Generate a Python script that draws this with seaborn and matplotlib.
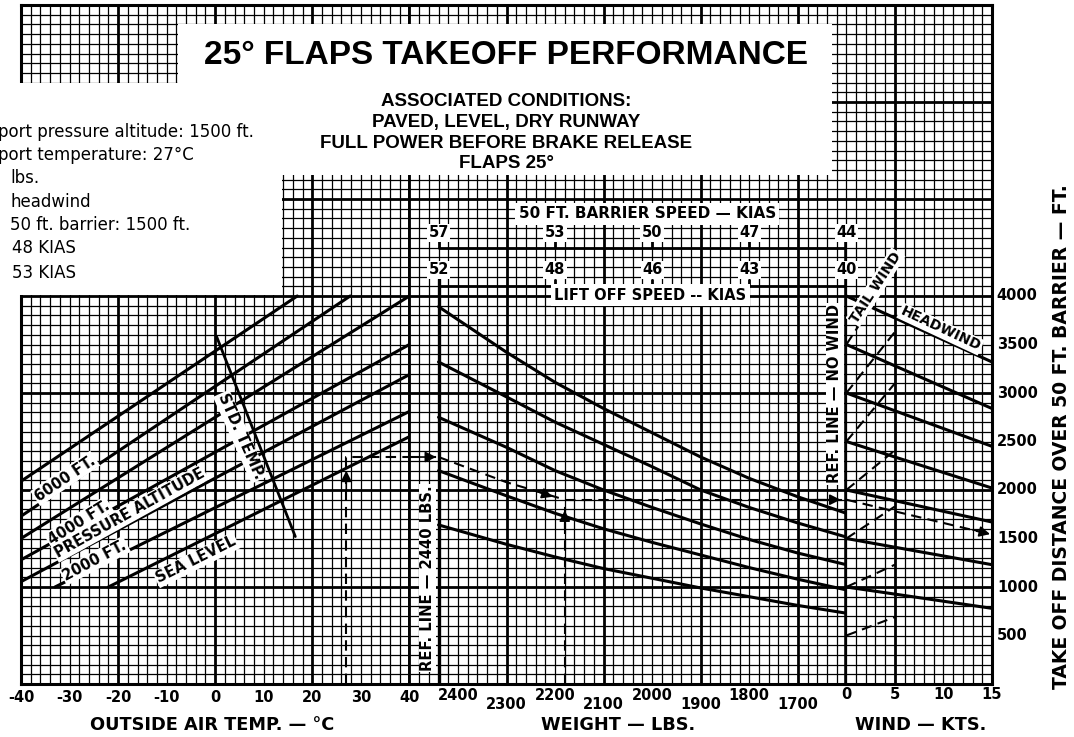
import numpy as np
import pandas as pd
import matplotlib
matplotlib.use("Agg")
import matplotlib.pyplot as plt
from matplotlib.patches import Rectangle
import seaborn as sns

W_PX, H_PX = 1074, 737

# ---------------- data ----------------
# left panel: outside air temp (C) vs distance, one line per pressure altitude
alt_names = ["6000", "5000", "4000", "3000", "2000", "1000", "SL"]
alt_oat = [[-40, 16.9], [-40, 27.8], [-40, 40], [-40, 40], [-40, 40], [-33, 40], [-22, 40]]
alt_dist = [[2090, 4000], [1730, 4000], [1500, 4000], [1280, 3500],
            [1055, 3190], [1000, 2810], [1000, 2550]]
std_temp_oat = [0.3, 16.5]
std_temp_dist = [3580, 1520]

# middle panel: weight curves (start on the 2440 lbs reference line)
curve_weights = [2440, 2300, 2200, 2100, 2000, 1900, 1800, 1700, 1600]
weight_curves = [
    [3890, 3420, 3110, 2840, 2590, 2340, 2120, 1930, 1760],
    [3320, 2960, 2700, 2470, 2240, 2000, 1820, 1660, 1515],
    [2750, 2440, 2200, 2000, 1820, 1650, 1490, 1350, 1230],
    [2200, 1940, 1760, 1600, 1460, 1330, 1200, 1080, 970],
    [1640, 1440, 1310, 1190, 1090, 990, 900, 810, 730],
]

# right panel: wind lines
headwind_kts = [0, 15]
headwind_start = [4000, 3500, 3000, 2500, 2000, 1500, 1000]
headwind_end = [3320, 2840, 2450, 2020, 1670, 1230, 780]
tailwind_kts = [0, 5]
tailwind_start = [3000, 2500, 2000, 1500, 1000, 500]
tailwind_end = [3630, 3100, 2410, 1830, 1230, 690]
tailwind_top_kts = [0, 2.5]
tailwind_top_dist = [3500, 3880]

# speed scales above the weight panel
scale_weights = [2440, 2200, 2000, 1800, 1600]
barrier_kias = [57, 53, 50, 47, 44]
liftoff_kias = [52, 48, 46, 43, 40]

# worked example (dashed path)
ex_oat = [27, 27, 40]
ex_oat_dist = [0, 2340, 2340]
ex_wt_in = [2500, 2440]
ex_wt_in_dist = [2340, 2340]
ex_wt_diag = [2440, 2300, 2180]
ex_wt_diag_dist = [2340, 2080, 1900]
ex_wt_up = [2180, 2180]
ex_wt_up_dist = [0, 1900]
ex_wt_out = [2180, 1600]
ex_wt_out_dist = [1900, 1900]
ex_wind = [0, 15]
ex_wind_dist = [1900, 1540]

# tick labels
temp_ticks = [-40, -30, -20, -10, 0, 10, 20, 30, 40]
weight_ticks_hi = [2400, 2200, 2000, 1800]
weight_ticks_lo = [2300, 2100, 1900, 1700]
wind_ticks = [0, 5, 10, 15]
dist_ticks = [500, 1000, 1500, 2000, 2500, 3000, 3500, 4000]

example_lines = [
    "port pressure altitude: 1500 ft.",
    "port temperature: 27\u00b0C",
    "lbs.",
    "headwind",
    "50 ft. barrier: 1500 ft.",
    "48 KIAS",
    "53 KIAS",
]
example_x = [-2, -2, 10, 10, 10, 12, 12]
example_y = [132, 155, 178, 202, 225, 248, 273]


def long_frame(xs_list, ys_list):
    rows = []
    for i, (xs, ys) in enumerate(zip(xs_list, ys_list)):
        for x, y in zip(xs, ys):
            rows.append((i, x, y))
    return pd.DataFrame(rows, columns=["line", "x", "y"])


def fx(px):
    return px / W_PX


def fy(py):
    return 1 - py / H_PX


sns.set_style("white")
plt.rcParams["font.family"] = ["DejaVu Sans"]
LAB = dict(family="DejaVu Sans", weight="bold", color="black")
HEAD = dict(family="Liberation Sans", weight="bold", color="black")
WHITE = dict(facecolor="white", edgecolor="none", pad=1.0)

fig = plt.figure(figsize=(W_PX / 100, H_PX / 100), dpi=100)

x_left, x_right = 21, 992
y_top, y_bot = 5, 684
cell = (x_right - x_left) / 100.0
ax_t = fig.add_axes([fx(x_left), fy(y_bot), 40 * cell / W_PX, (y_bot - y_top) / H_PX])
ax_w = fig.add_axes([fx(x_left + 40 * cell), fy(y_bot), 45 * cell / W_PX, (y_bot - y_top) / H_PX],
                    sharey=ax_t)
ax_k = fig.add_axes([fx(x_left + 85 * cell), fy(y_bot), 15 * cell / W_PX, (y_bot - y_top) / H_PX],
                    sharey=ax_t)
ax_t.set_zorder(1)
ax_k.set_zorder(1)
ax_w.set_zorder(2)

SOLID = dict(estimator=None, sort=False, color="black", legend=False)
DASH = dict(estimator=None, sort=False, color="black", linewidth=1.5,
            linestyle=(0, (5, 3)), legend=False)

# ---------------- curves ----------------
sns.lineplot(data=long_frame(alt_oat, alt_dist), x="x", y="y", units="line",
             linewidth=2.2, ax=ax_t, **SOLID)
sns.lineplot(x=std_temp_oat, y=std_temp_dist, linewidth=2.0, ax=ax_t, **SOLID)

sns.lineplot(data=long_frame([curve_weights] * len(weight_curves), weight_curves),
             x="x", y="y", units="line", linewidth=2.2, ax=ax_w, **SOLID)

sns.lineplot(data=long_frame([headwind_kts] * len(headwind_start),
                             [[a, b] for a, b in zip(headwind_start, headwind_end)]),
             x="x", y="y", units="line", linewidth=2.2, ax=ax_k, **SOLID)
sns.lineplot(data=long_frame([tailwind_kts] * len(tailwind_start),
                             [[a, b] for a, b in zip(tailwind_start, tailwind_end)]),
             x="x", y="y", units="line", ax=ax_k, **DASH)
sns.lineplot(x=tailwind_top_kts, y=tailwind_top_dist, ax=ax_k, **DASH)

# reference lines and speed scales
sns.lineplot(x=[scale_weights[0]] * 2, y=[0, 4180], linewidth=2.4, ax=ax_w, **SOLID)
sns.lineplot(x=[scale_weights[-1]] * 2, y=[0, 4580], linewidth=2.6, ax=ax_w, **SOLID)
sns.lineplot(x=scale_weights, y=[4500] * len(scale_weights), linewidth=2.0, ax=ax_w, **SOLID)
sns.lineplot(x=scale_weights, y=[4100] * len(scale_weights), linewidth=2.0, ax=ax_w, **SOLID)
ax_w.vlines(scale_weights, 4500, 4580, color="black", lw=2.0)
ax_w.vlines(scale_weights, 4100, 4180, color="black", lw=2.0)
for w, b, l in zip(scale_weights, barrier_kias, liftoff_kias):
    ax_w.text(w, 4650, str(b), ha="center", va="center", fontsize=10.5, bbox=WHITE, **LAB)
    ax_w.text(w, 4270, str(l), ha="center", va="center", fontsize=10.5, bbox=WHITE, **LAB)
ax_w.text(2010, 4850, "50 FT. BARRIER SPEED \u2014 KIAS", ha="center", va="center",
          fontsize=11, bbox=dict(facecolor="white", edgecolor="none", pad=2.5), **LAB)
ax_w.text(2004, 4010, "LIFT OFF SPEED -- KIAS", ha="center", va="center",
          fontsize=10.5, bbox=dict(facecolor="white", edgecolor="none", pad=2.5), **LAB)

# worked example
sns.lineplot(x=ex_oat, y=ex_oat_dist, ax=ax_t, **DASH)
sns.lineplot(x=ex_wt_in, y=ex_wt_in_dist, ax=ax_w, **DASH)
sns.lineplot(x=ex_wt_diag, y=ex_wt_diag_dist, ax=ax_w, **DASH)
sns.lineplot(x=ex_wt_up, y=ex_wt_up_dist, ax=ax_w, **DASH)
sns.lineplot(x=ex_wt_out, y=ex_wt_out_dist, ax=ax_w, **DASH)
sns.lineplot(x=ex_wind, y=ex_wind_dist, ax=ax_k, **DASH)


def arrow(ax, p0, p1):
    ax.annotate("", xy=p1, xytext=p0,
                arrowprops=dict(arrowstyle="-|>", color="black", lw=1.2,
                                mutation_scale=16, shrinkA=0, shrinkB=0))


arrow(ax_t, (27, 2000), (27, 2200))
arrow(ax_w, (2480, 2340), (2445, 2340))
arrow(ax_w, (2240, 1990), (2205, 1930))
arrow(ax_w, (2180, 1600), (2180, 1790))
arrow(ax_w, (1680, 1900), (1612, 1900))
arrow(ax_k, (13.0, 1590), (14.8, 1545))

# ---------------- in-chart labels ----------------
ax_t.text(-30.9, 2120, "6000 FT.", rotation=34, ha="center", va="center",
          rotation_mode="anchor", fontsize=10.5, bbox=WHITE, **LAB)
ax_t.text(-28.1, 1663, "4000 FT.", rotation=32, ha="center", va="center",
          rotation_mode="anchor", fontsize=10.5, bbox=WHITE, **LAB)
ax_t.text(-17.6, 1760, "PRESSURE ALTITUDE", rotation=29, ha="center", va="center",
          rotation_mode="anchor", fontsize=10.5, bbox=WHITE, **LAB)
ax_t.text(-24.8, 1271, "2000 FT.", rotation=28, ha="center", va="center",
          rotation_mode="anchor", fontsize=10.5, bbox=WHITE, **LAB)
ax_t.text(-3.9, 1278, "SEA LEVEL", rotation=26.5, ha="center", va="center",
          rotation_mode="anchor", fontsize=10.5, bbox=WHITE, **LAB)
ax_t.text(5.2, 2550, "STD. TEMP.", rotation=-66, ha="center", va="center",
          rotation_mode="anchor", fontsize=10.5, bbox=WHITE, **LAB)
ax_w.text(2463, 1090, "REF. LINE \u2014 2440 LBS.", rotation=90, ha="center", va="center",
          fontsize=10.6, bbox=WHITE, **LAB)
ax_w.text(1624, 2990, "REF. LINE \u2014 NO WIND", rotation=90, ha="center", va="center",
          fontsize=10.6, bbox=WHITE, **LAB)
ax_k.text(3.0, 4090, "TAIL WIND", rotation=57, ha="center", va="center",
          rotation_mode="anchor", fontsize=10, bbox=WHITE, **LAB)
ax_k.text(9.7, 3660, "HEADWIND", rotation=-25, ha="center", va="center",
          rotation_mode="anchor", fontsize=10, bbox=WHITE, **LAB)

# ---------------- graph paper ----------------
ax_t.set_xlim(-40, 40)
ax_w.set_xlim(2500, 1600)
ax_k.set_xlim(0, 15)
ax_t.set_ylim(0, 7000)
ax_t.set_xticks([-40, -20, 0, 20, 40])
ax_t.set_xticks(np.arange(-40, 41, 2), minor=True)
ax_w.set_xticks([2300, 2100, 1900, 1700])
ax_w.set_xticks(np.arange(1600, 2501, 20), minor=True)
ax_k.set_xticks([5, 15])
ax_k.set_xticks(np.arange(0, 16, 1), minor=True)
ax_t.set_yticks(np.arange(0, 7001, 1000))
ax_t.set_yticks(np.arange(0, 7001, 100), minor=True)
for ax in (ax_t, ax_w, ax_k):
    ax.set_axisbelow(True)
    ax.patch.set_alpha(0)
    ax.grid(which="major", color="black", linewidth=2.0)
    ax.grid(which="minor", color="black", linewidth=0.9)
    ax.tick_params(which="both", length=0, labelbottom=False, labelleft=False)
    ax.set_xlabel("")
    ax.set_ylabel("")
    for s in ax.spines.values():
        s.set_color("black")
        s.set_linewidth(2.2)
ax_t.spines["right"].set_linewidth(2.0)
ax_w.spines["left"].set_visible(False)
ax_w.spines["right"].set_visible(False)
ax_k.spines["left"].set_visible(False)

# ---------------- axis tick labels and titles ----------------
for t in temp_ticks:
    ax_t.text(t, -137, str(t), ha="center", va="center", fontsize=10.5, **LAB)
for w in weight_ticks_hi:
    ax_w.text(w, -120, str(w), ha="center", va="center", fontsize=10.5, **LAB)
for w in weight_ticks_lo:
    ax_w.text(w, -216, str(w), ha="center", va="center", fontsize=10.5, **LAB)
for k in wind_ticks:
    ax_k.text(k, -113, str(k), ha="center", va="center", fontsize=10.5, **LAB)
for d in dist_ticks:
    ax_k.text(15.5, d, str(d), ha="left", va="center", fontsize=10.5, **LAB)
ax_t.text(-0.6, -423, "OUTSIDE AIR TEMP. \u2014 \u00b0C", ha="center", va="center",
          fontsize=12.8, **LAB)
ax_w.text(2070, -423, "WEIGHT \u2014 LBS.", ha="center", va="center", fontsize=12.8, **LAB)
ax_k.text(7.7, -423, "WIND \u2014 KTS.", ha="center", va="center", fontsize=12.8, **LAB)
ax_k.text(22.2, 2546, "TAKE OFF DISTANCE OVER 50 FT. BARRIER \u2014 FT.", rotation=90,
          ha="center", va="center", fontsize=13.5, **LAB)

# ---------------- white title and note areas ----------------
for (x0, y0, x1, y1) in [(178, 24, 832, 175), (0, 83, 282, 295)]:
    fig.add_artist(Rectangle((fx(x0), fy(y1)), (x1 - x0) / W_PX, (y1 - y0) / H_PX,
                             transform=fig.transFigure, facecolor="white",
                             edgecolor="none", zorder=5))

fig.text(fx(506), fy(55), "25\u00b0 FLAPS TAKEOFF PERFORMANCE", ha="center", va="center",
         fontsize=24, zorder=6, **HEAD)
for txt, py in zip(["ASSOCIATED CONDITIONS:", "PAVED, LEVEL, DRY RUNWAY",
                    "FULL POWER BEFORE BRAKE RELEASE", "FLAPS 25\u00b0"],
                   [101, 122, 143, 164]):
    fig.text(fx(506), fy(py), txt, ha="center", va="center", fontsize=13.5, zorder=6, **HEAD)
for txt, px, py in zip(example_lines, example_x, example_y):
    fig.text(fx(px), fy(py), txt, ha="left", va="center", fontsize=12, zorder=6,
             family="DejaVu Sans", color="black")

fig.savefig("out.png", dpi=100)
